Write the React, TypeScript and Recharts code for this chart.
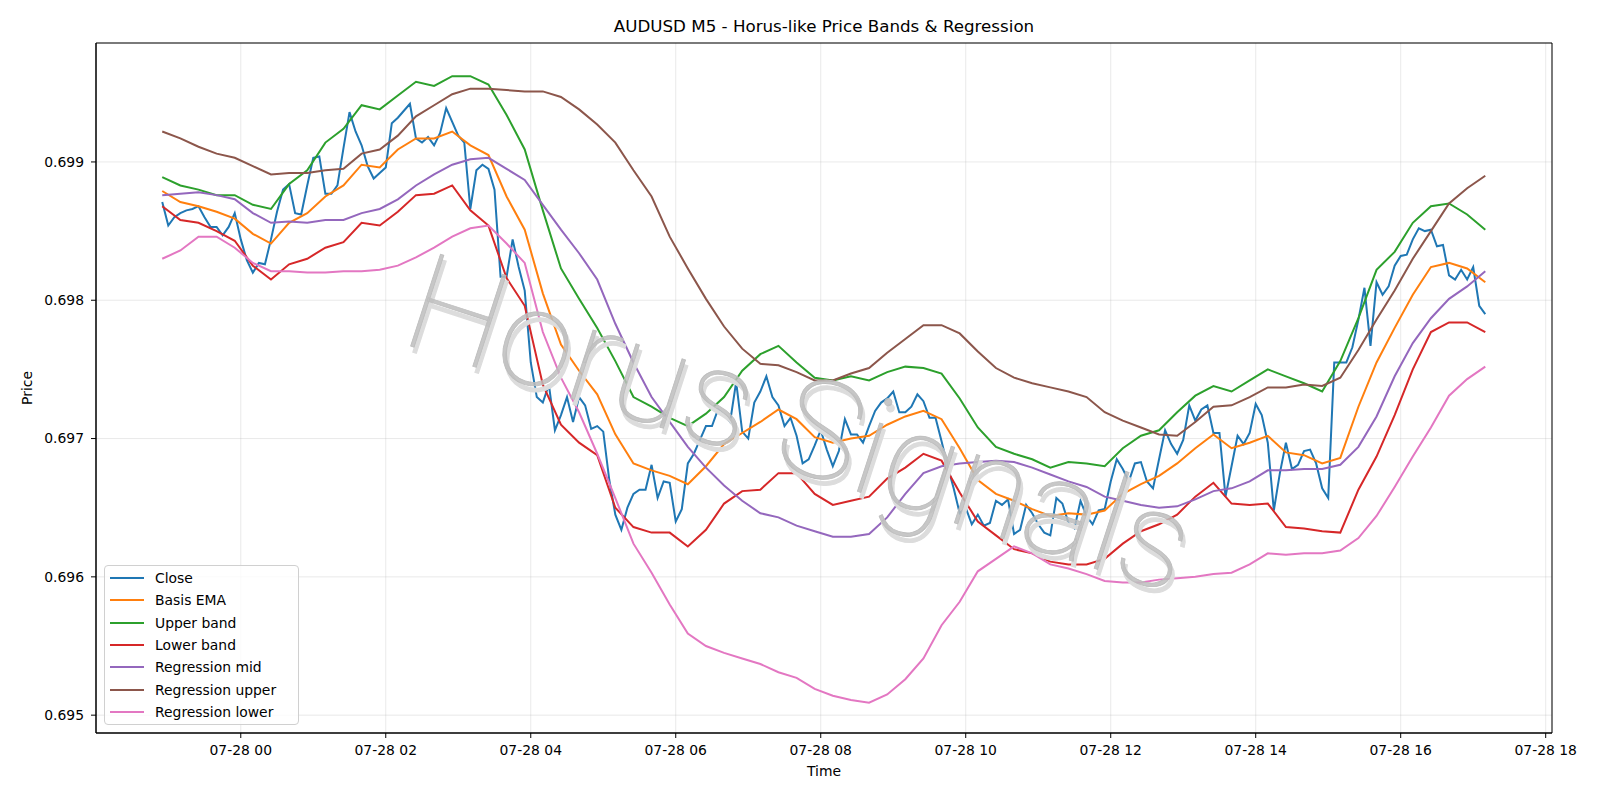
import React from "react";
import {
  LineChart,
  Line,
  XAxis,
  YAxis,
  CartesianGrid,
  ReferenceArea,
} from "recharts";

const FONT = "'DejaVu Sans', Verdana, sans-serif";

// 5-minute bars, hours relative to 07-28 00:00 (first bar 07-27 22:55)
const START_H = -13 / 12;
const BAR_H = 5 / 60;
const BAND_STEP = 3; // smooth series read every 3rd bar (15 min)

const close = [
  0.69871, 0.69854, 0.6986, 0.69863, 0.69865, 0.69866, 0.69868, 0.6986, 0.69853, 0.69853, 0.69847, 0.69853,
  0.69863, 0.69844, 0.69829, 0.6982, 0.69827, 0.69826, 0.69844, 0.69864, 0.6988, 0.69884, 0.69863, 0.69862,
  0.69883, 0.69903, 0.69904, 0.69877, 0.69877, 0.69883, 0.6991, 0.69936, 0.69922, 0.69912, 0.69897, 0.69888,
  0.69892, 0.69896, 0.69928, 0.69932, 0.69937, 0.69942, 0.69917, 0.69914, 0.69918, 0.69912, 0.69921, 0.69939,
  0.69929, 0.69919, 0.69914, 0.69866, 0.69894, 0.69898, 0.69895, 0.6988, 0.69817, 0.69817, 0.69844, 0.69824,
  0.69807, 0.69755, 0.6973, 0.69726, 0.69739, 0.69706, 0.69717, 0.6973, 0.69712, 0.6973, 0.69724, 0.69707,
  0.69709, 0.69705, 0.6967, 0.69645, 0.69634, 0.6965, 0.6966, 0.69663, 0.69663, 0.69681, 0.69657, 0.69669,
  0.69668, 0.6964, 0.69649, 0.69682, 0.69689, 0.69699, 0.69709, 0.69709, 0.69721, 0.69717, 0.69712, 0.69741,
  0.69705, 0.697, 0.69726, 0.69734, 0.69745, 0.6973, 0.69724, 0.69709, 0.69715, 0.69702, 0.69682, 0.69685,
  0.69695, 0.69706, 0.69692, 0.6968, 0.69691, 0.69714, 0.69703, 0.69703, 0.69697, 0.69709, 0.6972, 0.69726,
  0.69729, 0.69734, 0.69719, 0.69719, 0.69723, 0.69732, 0.69727, 0.69715, 0.69715, 0.69698, 0.6968, 0.69664,
  0.69646, 0.6965, 0.69638, 0.69645, 0.69637, 0.69639, 0.69655, 0.69652, 0.69656, 0.69631, 0.69634, 0.69652,
  0.69646, 0.69638, 0.69632, 0.6963, 0.69657, 0.69653, 0.69639, 0.69635, 0.69655, 0.69644, 0.69638, 0.69648,
  0.69649, 0.69669, 0.69685, 0.69678, 0.69669, 0.69682, 0.69683, 0.69669, 0.69664, 0.69685, 0.69706, 0.69696,
  0.69689, 0.69699, 0.69724, 0.69713, 0.69721, 0.69724, 0.69704, 0.69704, 0.69658, 0.6968, 0.69702, 0.69696,
  0.69704, 0.69725, 0.69717, 0.69697, 0.69648, 0.69675, 0.69697, 0.69678, 0.69681, 0.69691, 0.69692, 0.69682,
  0.69664, 0.69657, 0.69755, 0.69755, 0.69755, 0.69766, 0.69786, 0.69809, 0.69767, 0.69813, 0.69804, 0.6981,
  0.69825, 0.69832, 0.69833, 0.69844, 0.69852, 0.6985, 0.69851, 0.69839, 0.6984, 0.69818, 0.69815, 0.69822,
  0.69815, 0.69824, 0.69796, 0.6979,
];

const basisEma = [
  0.69879, 0.69871, 0.69868, 0.69864, 0.69859, 0.69848, 0.69841, 0.69856, 0.69863, 0.69875,
  0.69883, 0.69898, 0.69896, 0.69909, 0.69917, 0.69917, 0.69922, 0.69912, 0.69905, 0.69875,
  0.69851, 0.69805, 0.69768, 0.69749, 0.69732, 0.69703, 0.69682, 0.69677, 0.69673, 0.69667,
  0.6968, 0.69696, 0.69704, 0.69712, 0.69721, 0.69714, 0.69701, 0.69697, 0.697, 0.69702,
  0.6971, 0.69716, 0.6972, 0.69714, 0.69693, 0.6967, 0.6966, 0.69655, 0.69649, 0.69644,
  0.69646, 0.69645, 0.69648, 0.6966, 0.69667, 0.69673, 0.69682, 0.69693, 0.69703, 0.69693,
  0.69697, 0.69702, 0.6969, 0.69688, 0.69682, 0.69686, 0.69723, 0.69755, 0.6978, 0.69804,
  0.69824, 0.69827, 0.69823, 0.69813,
];

const upperBand = [
  0.69889, 0.69883, 0.6988, 0.69876, 0.69876, 0.69869, 0.69866, 0.69884, 0.69894, 0.69914,
  0.69924, 0.69941, 0.69938, 0.69948, 0.69958, 0.69955, 0.69962, 0.69962, 0.69956, 0.69934,
  0.69909, 0.69865, 0.69823, 0.69801, 0.6978, 0.69756, 0.6973, 0.69723, 0.69715, 0.69709,
  0.69718, 0.6973, 0.69749, 0.69761, 0.69767, 0.69755, 0.69744, 0.69742, 0.69745, 0.69742,
  0.69748, 0.69752, 0.69751, 0.69747, 0.69729, 0.69708, 0.69694, 0.69689, 0.69685, 0.69679,
  0.69683, 0.69682, 0.6968, 0.69693, 0.69702, 0.69706, 0.69719, 0.69731, 0.69738, 0.69734,
  0.69742, 0.6975, 0.69745, 0.6974, 0.69734, 0.69756, 0.69787, 0.69822, 0.69835, 0.69856,
  0.69868, 0.6987, 0.69862, 0.69851,
];

const lowerBand = [
  0.69868, 0.69858, 0.69856, 0.6985, 0.69843, 0.69825, 0.69815, 0.69826, 0.6983, 0.69838,
  0.69842, 0.69856, 0.69854, 0.69864, 0.69876, 0.69877, 0.69883, 0.69865, 0.69854, 0.69816,
  0.69796, 0.69739, 0.6971, 0.69697, 0.69688, 0.6965, 0.69636, 0.69632, 0.69632, 0.69622,
  0.69634, 0.69653, 0.69662, 0.69663, 0.69675, 0.69675, 0.6966, 0.69652, 0.69655, 0.69658,
  0.69671, 0.69679, 0.69689, 0.69684, 0.69661, 0.6964, 0.6963, 0.6962, 0.69617, 0.69611,
  0.69609, 0.69609, 0.69613, 0.69624, 0.69633, 0.69638, 0.69645, 0.69658, 0.69668, 0.69653,
  0.69652, 0.69653, 0.69636, 0.69635, 0.69633, 0.69632, 0.69663, 0.69687, 0.69717, 0.6975,
  0.69777, 0.69784, 0.69784, 0.69777,
];

const regMid = [
  0.69876, 0.69877, 0.69878, 0.69876, 0.69873, 0.69863, 0.69856, 0.69857, 0.69856, 0.69858,
  0.69858, 0.69863, 0.69866, 0.69873, 0.69883, 0.69891, 0.69898, 0.69902, 0.69903, 0.69895,
  0.69887, 0.69869, 0.69851, 0.69834, 0.69815, 0.69783, 0.69755, 0.6973, 0.69712, 0.69694,
  0.69679, 0.69666, 0.69655, 0.69646, 0.69643, 0.69637, 0.69633, 0.69629, 0.69629, 0.69631,
  0.69643, 0.6966, 0.69675, 0.6968, 0.69682, 0.69683, 0.69684, 0.69683, 0.69679, 0.69674,
  0.69669, 0.69665, 0.69658, 0.69655, 0.69652, 0.6965, 0.69651, 0.69656, 0.69662, 0.69664,
  0.69669, 0.69677, 0.69677, 0.69678, 0.69678, 0.69681, 0.69694, 0.69716, 0.69745, 0.69769,
  0.69787, 0.69801, 0.6981, 0.69821,
];

const regUpper = [
  0.69922, 0.69917, 0.69911, 0.69906, 0.69903, 0.69897, 0.69891, 0.69892, 0.69892, 0.69894,
  0.69895, 0.69906, 0.69909, 0.69919, 0.69933, 0.69941, 0.69949, 0.69953, 0.69953, 0.69952,
  0.69951, 0.69951, 0.69947, 0.69938, 0.69927, 0.69914, 0.69894, 0.69875, 0.69846, 0.69823,
  0.69801, 0.69781, 0.69765, 0.69754, 0.69753, 0.69748, 0.69742, 0.69742, 0.69747, 0.69751,
  0.69762, 0.69772, 0.69782, 0.69782, 0.69776, 0.69763, 0.69751, 0.69744, 0.6974, 0.69737,
  0.69734, 0.6973, 0.69719, 0.69713, 0.69708, 0.69703, 0.69702, 0.69712, 0.69723, 0.69724,
  0.6973, 0.69737, 0.69737, 0.69739, 0.69738, 0.69744, 0.69764, 0.69786, 0.69807, 0.6983,
  0.6985, 0.6987, 0.69881, 0.6989,
];

const regLower = [
  0.6983, 0.69836, 0.69846, 0.69846, 0.69838, 0.69827, 0.69821, 0.69821, 0.6982, 0.6982,
  0.69821, 0.69821, 0.69822, 0.69825, 0.69831, 0.69838, 0.69846, 0.69852, 0.69854, 0.69841,
  0.69827, 0.69777, 0.69744, 0.69719, 0.69689, 0.69657, 0.69624, 0.69603, 0.6958, 0.69559,
  0.6955, 0.69545, 0.69541, 0.69537, 0.69531, 0.69527, 0.69519, 0.69514, 0.69511, 0.69509,
  0.69515, 0.69526, 0.69541, 0.69565, 0.69582, 0.69604, 0.69613, 0.69622, 0.69617, 0.69609,
  0.69606, 0.69602, 0.69597, 0.69596, 0.69596, 0.69598, 0.69599, 0.696, 0.69602, 0.69603,
  0.69609, 0.69617, 0.69616, 0.69617, 0.69617, 0.69619, 0.69628, 0.69644, 0.69665, 0.69687,
  0.69708, 0.69731, 0.69743, 0.69752,
];

const X_TICKS = [0, 2, 4, 6, 8, 10, 12, 14, 16, 18];
const Y_TICKS = [0.695, 0.696, 0.697, 0.698, 0.699];
const X_DOMAIN: [number, number] = [-1.997, 18.087];
const Y_DOMAIN: [number, number] = [0.694871, 0.69986];

const closeRows = close.map((v, i) => ({ t: START_H + i * BAR_H, close: v }));
const bandRows = basisEma.map((v, j) => ({
  t: START_H + j * BAND_STEP * BAR_H,
  basis: v,
  upper: upperBand[j],
  lower: lowerBand[j],
  regMid: regMid[j],
  regUpper: regUpper[j],
  regLower: regLower[j],
}));

const SERIES = [
  { key: "close", name: "Close", color: "#1f77b4" },
  { key: "basis", name: "Basis EMA", color: "#ff7f0e" },
  { key: "upper", name: "Upper band", color: "#2ca02c" },
  { key: "lower", name: "Lower band", color: "#d62728" },
  { key: "regMid", name: "Regression mid", color: "#9467bd" },
  { key: "regUpper", name: "Regression upper", color: "#8c564b" },
  { key: "regLower", name: "Regression lower", color: "#e377c2" },
];

const tickStyle = { fontSize: 13.9, fill: "#000", fontFamily: FONT };

function ChartLegend() {
  return (
    <div
      style={{
        position: "absolute",
        left: 104,
        top: 565,
        width: 195,
        height: 160,
        boxSizing: "border-box",
        border: "1px solid #d0d0d0",
        borderRadius: 4,
        background: "rgba(255,255,255,0.8)",
        fontFamily: FONT,
        fontSize: 13.9,
        color: "#000",
      }}
    >
      {SERIES.map((s, k) => (
        <div
          key={s.key}
          style={{
            position: "absolute",
            left: 0,
            top: 12 + k * 22.3 - 10,
            height: 20,
            width: 190,
            display: "flex",
            alignItems: "center",
          }}
        >
          <span style={{ position: "absolute", left: 5, width: 34, height: 2, background: s.color }} />
          <span style={{ position: "absolute", left: 50, lineHeight: "20px", whiteSpace: "nowrap" }}>{s.name}</span>
        </div>
      ))}
    </div>
  );
}

export default function App() {
  return (
    <div style={{ position: "absolute", left: 0, top: 0, width: 1600, height: 800, background: "#fff" }}>
      <LineChart
        width={1600}
        height={800}
        data={closeRows}
        margin={{ top: 43, right: 48, bottom: 0, left: 26 }}
      >
        <CartesianGrid stroke="#b0b0b0" strokeOpacity={0.35} strokeWidth={0.8} />
        <XAxis
          type="number"
          dataKey="t"
          domain={X_DOMAIN}
          ticks={X_TICKS}
          interval={0}
          allowDataOverflow
          height={67}
          tickFormatter={(h: number) => `07-28 ${String(h).padStart(2, "0")}`}
          tick={tickStyle}
          tickLine={{ stroke: "#000" }}
          axisLine={{ stroke: "#000" }}
          tickSize={5}
          tickMargin={7}
        />
        <YAxis
          type="number"
          domain={Y_DOMAIN}
          ticks={Y_TICKS}
          interval={0}
          allowDataOverflow
          width={70}
          tickFormatter={(v: number) => v.toFixed(3)}
          tick={tickStyle}
          tickLine={{ stroke: "#000" }}
          axisLine={{ stroke: "#000" }}
          tickSize={5}
          tickMargin={7}
        />
        <Line dataKey="close" name="Close" stroke="#1f77b4" strokeWidth={2} dot={false} isAnimationActive={false} />
        {SERIES.slice(1).map((s) => (
          <Line
            key={s.key}
            data={bandRows}
            dataKey={s.key}
            name={s.name}
            stroke={s.color}
            strokeWidth={2}
            dot={false}
            isAnimationActive={false}
          />
        ))}
        <ReferenceArea
          x1={X_DOMAIN[0]}
          x2={X_DOMAIN[1]}
          y1={Y_DOMAIN[0]}
          y2={Y_DOMAIN[1]}
          fill="none"
          stroke="#000"
          strokeWidth={1}
          ifOverflow="visible"
        />
      </LineChart>

      <svg
        width={1600}
        height={800}
        style={{ position: "absolute", left: 0, top: 0, pointerEvents: "none" }}
        fontFamily={FONT}
      >
        {/* watermark: thin light letters with a soft offset shadow */}
        <g
          transform="translate(398 342) rotate(18)"
          fontFamily="Roboto, 'DejaVu Sans', sans-serif"
          fontWeight={100}
          fontSize={136}
        >
          <text x={4} y={5} fill="#dcdcdc" stroke="#dcdcdc" strokeWidth={1.2}>
            Horus Signals
          </text>
          <text x={0} y={0} fill="#bdbdbd" fillOpacity={0.85} stroke="#bdbdbd" strokeWidth={0.8}>
            Horus Signals
          </text>
        </g>
        <text x={824} y={32} textAnchor="middle" fontSize={16.7} fill="#000">
          AUDUSD M5 - Horus-like Price Bands &amp; Regression
        </text>
        <text x={824} y={776} textAnchor="middle" fontSize={13.9} fill="#000">
          Time
        </text>
        <text
          x={32}
          y={388}
          textAnchor="middle"
          fontSize={13.9}
          fill="#000"
          transform="rotate(-90 32 388)"
        >
          Price
        </text>
      </svg>

      <ChartLegend />
    </div>
  );
}
